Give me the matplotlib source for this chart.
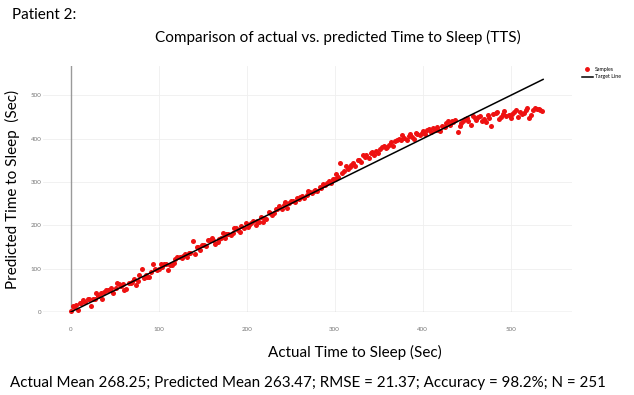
import numpy as np
import matplotlib
matplotlib.use('Agg')
import matplotlib.pyplot as plt
from matplotlib.lines import Line2D

plt.rcParams['font.family'] = ['Lato', 'DejaVu Sans']

# 實際入睡時間 (秒)
actual = [
    0, 2, 4, 6, 8, 10, 12, 14, 16, 19,
    21, 23, 25, 27, 29, 31, 34, 36, 38, 40,
    42, 44, 46, 48, 51, 53, 55, 57, 59, 61,
    63, 66, 68, 70, 72, 74, 76, 78, 81, 83,
    85, 87, 89, 91, 93, 96, 98, 100, 102, 104,
    106, 108, 111, 113, 115, 117, 119, 121, 124, 126,
    128, 130, 132, 134, 136, 139, 141, 143, 145, 147,
    149, 151, 154, 156, 158, 160, 162, 164, 167, 169,
    171, 173, 175, 177, 179, 182, 184, 186, 188, 190,
    192, 194, 197, 199, 201, 203, 205, 207, 210, 212,
    214, 216, 218, 220, 222, 225, 227, 229, 231, 233,
    235, 237, 240, 242, 244, 246, 248, 250, 253, 255,
    257, 259, 261, 263, 265, 268, 270, 272, 274, 276,
    278, 280, 283, 285, 287, 289, 291, 293, 296, 298,
    300, 302, 304, 306, 308, 311, 313, 315, 317, 319,
    321, 323, 326, 328, 330, 332, 334, 336, 339, 341,
    343, 345, 347, 349, 351, 354, 356, 358, 360, 362,
    364, 366, 369, 371, 373, 375, 377, 379, 382, 384,
    386, 388, 390, 392, 394, 397, 399, 401, 403, 405,
    407, 409, 412, 414, 416, 418, 420, 422, 425, 427,
    429, 431, 433, 435, 437, 440, 442, 444, 446, 448,
    450, 452, 455, 457, 459, 461, 463, 465, 468, 470,
    472, 474, 476, 478, 480, 483, 485, 487, 489, 491,
    493, 495, 498, 500, 502, 504, 506, 508, 511, 513,
    515, 517, 519, 521, 523, 526, 528, 530, 532, 534,
    536,
]

# 預測入睡時間 (秒)
predicted = [
    3, 15, 12, 16, 5, 22, 22, 28, 24, 31,
    29, 14, 30, 31, 44, 37, 44, 30, 46, 50,
    50, 50, 56, 44, 56, 66, 64, 61, 65, 52,
    53, 68, 67, 70, 77, 62, 72, 85, 99, 79,
    85, 81, 81, 93, 112, 99, 96, 100, 110, 103,
    112, 112, 98, 108, 109, 113, 122, 126, 128, 125,
    130, 133, 128, 136, 136, 165, 133, 149, 149, 143,
    154, 154, 152, 166, 166, 172, 167, 156, 161, 168,
    172, 182, 170, 180, 181, 178, 183, 194, 194, 190,
    185, 198, 194, 205, 196, 201, 206, 210, 201, 210,
    208, 219, 208, 216, 214, 230, 229, 224, 228, 237,
    237, 245, 238, 248, 254, 241, 251, 257, 257, 255,
    263, 261, 265, 268, 263, 271, 279, 278, 274, 280,
    281, 280, 288, 287, 295, 293, 297, 303, 299, 306,
    308, 318, 312, 344, 322, 326, 338, 330, 334, 340,
    344, 337, 350, 352, 346, 363, 358, 362, 356, 366,
    370, 362, 372, 368, 376, 381, 383, 378, 380, 386,
    392, 384, 394, 398, 400, 396, 409, 402, 398, 406,
    410, 404, 399, 413, 412, 408, 414, 418, 412, 420,
    422, 416, 424, 420, 426, 421, 418, 430, 428, 436,
    441, 432, 441, 438, 444, 416, 430, 436, 440, 445,
    448, 440, 432, 452, 448, 444, 450, 452, 440, 446,
    438, 454, 448, 430, 456, 460, 462, 446, 450, 458,
    464, 452, 454, 447, 458, 462, 466, 450, 462, 458,
    460, 466, 470, 448, 455, 466, 470, 468, 468, 466,
    465,
]

target_line = [0, 537]
ticks = [0, 100, 200, 300, 400, 500]

fig = plt.figure(figsize=(6.34, 3.95), dpi=100)
ax = fig.add_axes([0.068, 0.210, 0.834, 0.623])

ax.set_xlim(-31.5, 569.7)
ax.set_ylim(0, 568)

for t in ticks[1:]:
    ax.axvline(t, color='#efefef', lw=0.6, zorder=0)
    ax.axhline(t, color='#efefef', lw=0.6, zorder=0)
ax.axhline(0, color='#c8c8c8', lw=1.0, zorder=1)
ax.axvline(0, color='#9a9a9a', lw=1.0, zorder=1)

ax.scatter(actual, predicted, s=13, color='#ee1111', linewidths=0, zorder=3, clip_on=False)
ax.plot(target_line, target_line, color='black', lw=1.1, zorder=4)

for s in ax.spines.values():
    s.set_visible(False)
ax.set_xticks(ticks)
ax.set_yticks(ticks)
ax.tick_params(length=0, labelsize=4.5, labelcolor='#777777')
ax.tick_params(axis='x', pad=11)
ax.tick_params(axis='y', pad=1)

handles = [
    Line2D([], [], marker='o', color='#ee1111', linestyle='none', markersize=2.5),
    Line2D([], [], color='black', lw=1.1),
]
fig.legend(handles, ['Samples', 'Target Line'], loc='upper left',
           bbox_to_anchor=(0.915, 0.835), frameon=False, fontsize=3.8,
           handlelength=2.0, handletextpad=0.4, labelspacing=0.4, borderaxespad=0)

fig.text(0.019, 0.98, 'Patient 2:', fontsize=11, va='top', ha='left')
fig.text(0.533, 0.905, 'Comparison of actual vs. predicted Time to Sleep (TTS)',
         fontsize=11, va='center', ha='center')
fig.text(0.56, 0.107, 'Actual Time to Sleep (Sec)', fontsize=11, va='center', ha='center')
fig.text(0.019, 0.52, 'Predicted Time to Sleep  (Sec)', fontsize=11, va='center',
         ha='center', rotation=90)
fig.text(0.016, 0.03, 'Actual Mean 268.25; Predicted Mean 263.47; RMSE = 21.37; '
         'Accuracy = 98.2%; N = 251', fontsize=10.9, va='center', ha='left')

fig.savefig('out.png', dpi=100)
